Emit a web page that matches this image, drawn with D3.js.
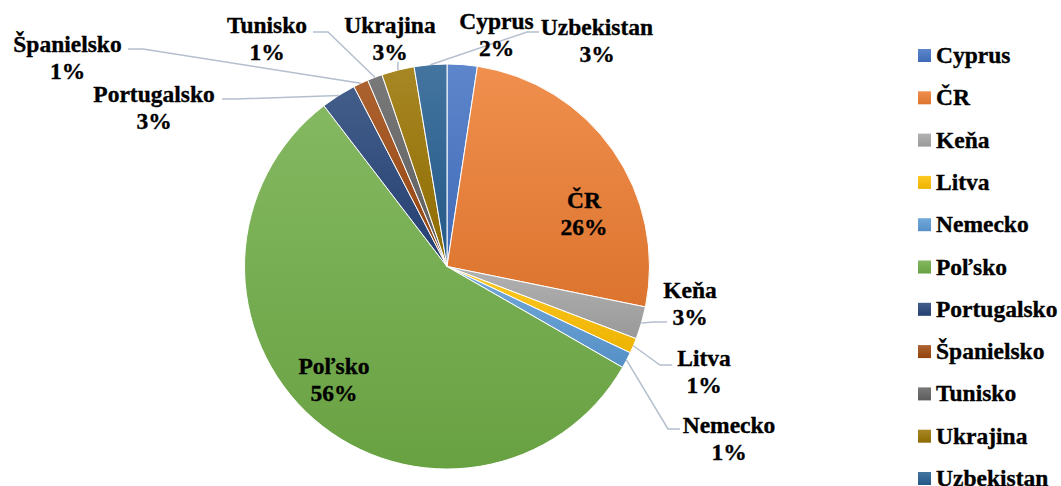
<!DOCTYPE html>
<html>
<head>
<meta charset="utf-8">
<script src="https://cdn.jsdelivr.net/npm/d3@7"></script>
<style>
  html, body { margin: 0; padding: 0; background: #fff; }
  svg text { font-family: "Times New Roman", "Liberation Serif", Tinos, "DejaVu Serif", serif; font-weight: bold; font-size: 23.5px; fill: #000; stroke: #000; stroke-width: 0.35px; }
</style>
</head>
<body>
<svg id="chart" width="1061" height="486"></svg>
<script>
const categories = ["Cyprus", "ČR", "Keňa", "Litva", "Nemecko", "Poľsko", "Portugalsko", "Španielsko", "Tunisko", "Ukrajina", "Uzbekistan"];
const shares = [2.4, 25.8, 2.6, 1.2, 1.3, 56.3, 2.8, 1.2, 1.2, 2.6, 2.6];
const colors = ["#4472C4", "#ED7D31", "#A5A5A5", "#FFC000", "#5B9BD5", "#70AD47", "#264478", "#9E480E", "#636363", "#997300", "#255E91"];

// label placement (name baseline), leader points after the slice edge
const labelLayout = [
  { x: 496.5, y: 29, leader: null },
  { x: 584, y: 208, leader: null },
  { x: 690, y: 298, leader: [[654, 322], [667, 322]] },
  { x: 704, y: 366, leader: [[660, 365], [672, 365]] },
  { x: 729, y: 433, leader: [[668, 429], [680, 429]] },
  { x: 334, y: 374, leader: null },
  { x: 154, y: 102, leader: [[237, 99], [222, 99]] },
  { x: 67.5, y: 52, leader: [[143, 49], [128, 49]] },
  { x: 267, y: 33, leader: [[328, 32], [313, 32]] },
  { x: 390, y: 33, leader: [[398, 62]] },
  { x: 597, y: 35, leader: [[527, 32], [539, 32]] }
];

const cx = 447, cy = 266.5, R = 202.5;
const lineH = 27;
const FONT = '"Times New Roman", "Liberation Serif", Tinos, "DejaVu Serif", serif';

const svg = d3.select("#chart");
const defs = svg.append("defs");

const total = d3.sum(shares);
const fmt = d3.format(".0%");
const rows = categories.map((c, i) => ({ name: c, value: shares[i], color: colors[i], i }));

rows.forEach(d => {
  const g = defs.append("linearGradient")
    .attr("id", "grad" + d.i)
    .attr("x1", 0).attr("y1", 0).attr("x2", 0).attr("y2", 1);
  g.append("stop").attr("offset", "0%").attr("stop-color", d3.interpolateRgb(d.color, "#fff")(0.14));
  g.append("stop").attr("offset", "100%").attr("stop-color", d3.interpolateRgb(d.color, "#000")(0.07));
});

const pie = d3.pie().value(d => d.value).sort(null);
const arcs = pie(rows);
const arc = d3.arc().innerRadius(0).outerRadius(R);
const edge = d3.arc().innerRadius(R).outerRadius(R);

const g = svg.append("g").attr("transform", `translate(${cx},${cy})`);

g.selectAll("path.slice")
  .data(arcs)
  .join("path")
  .attr("class", "slice")
  .attr("d", arc)
  .attr("fill", d => `url(#grad${d.data.i})`)
  .attr("stroke", "#fff")
  .attr("stroke-width", 1);

// leader lines
const line = d3.line();
arcs.forEach(d => {
  const lay = labelLayout[d.data.i];
  if (!lay.leader) return;
  const [ax, ay] = edge.centroid(d);
  const pts = [[ax + cx, ay + cy]].concat(lay.leader);
  svg.append("path")
    .attr("d", line(pts))
    .attr("fill", "none")
    .attr("stroke", "#B4BFCE")
    .attr("stroke-width", 1.5);
});

// data labels
arcs.forEach(d => {
  const lay = labelLayout[d.data.i];
  const t = svg.append("text").attr("text-anchor", "middle").attr("font-family", FONT);
  t.append("tspan").attr("x", lay.x).attr("y", lay.y).text(d.data.name);
  t.append("tspan").attr("x", lay.x).attr("y", lay.y + lineH).text(fmt(d.data.value / total));
});

// legend
const legend = svg.append("g");
const ly = d3.scalePoint().domain(categories).range([55.5, 478.5]);
const item = legend.selectAll("g")
  .data(rows)
  .join("g")
  .attr("transform", d => `translate(918,${ly(d.name)})`);
item.append("rect")
  .attr("x", 0).attr("y", -6.5)
  .attr("width", 13).attr("height", 13)
  .attr("fill", d => `url(#grad${d.i})`);
item.append("text")
  .attr("x", 18).attr("y", 7.5)
  .attr("font-family", FONT)
  .text(d => d.name);
</script>
</body>
</html>
